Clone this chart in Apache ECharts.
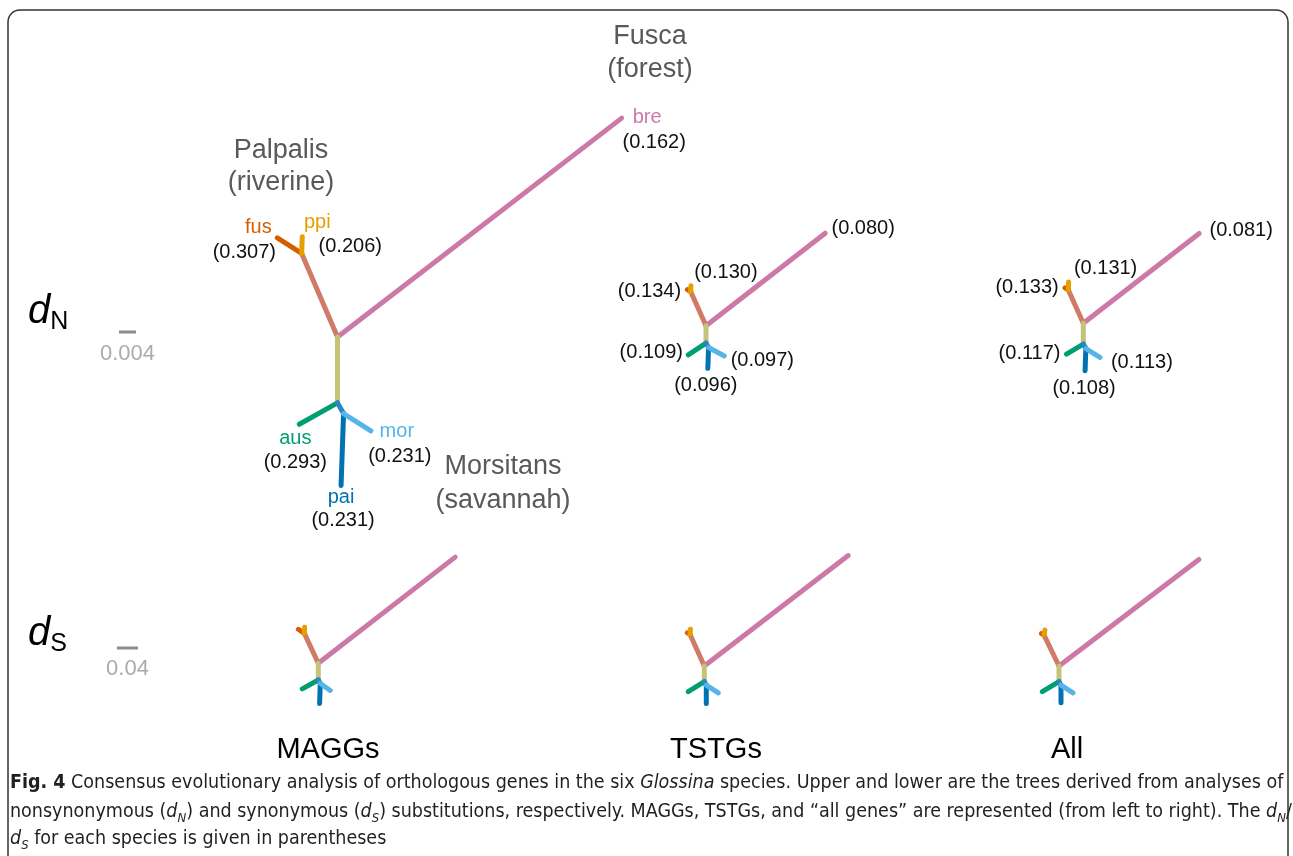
<!DOCTYPE html>
<html>
<head>
<meta charset="utf-8">
<script src="https://cdn.jsdelivr.net/npm/echarts@6/dist/echarts.min.js"></script>
<style>
  html, body { margin: 0; padding: 0; background: #fff; }
  #main { width: 1293px; height: 856px; }
</style>
</head>
<body>
<div id="main"></div>
<script>
// tree topology (unrooted, drawn from inner node A)
var branchFrom = ['A', 'A', 'P', 'P', 'A', 'B', 'B', 'C', 'C'];
var branchTo = ['bre', 'P', 'fus', 'ppi', 'B', 'aus', 'C', 'pai', 'mor'];

// branch lengths (substitutions per site) and drawing angles (deg)
var lenN_MAGGs = [0.0844, 0.0214, 0.0068, 0.0039, 0.0155, 0.0103, 0.0029, 0.0169, 0.0076];
var angN_MAGGs = [37.6, 113.2, 147.4, 88, 270, 209.3, 299.5, 268, 327.6];
var lenN_TSTGs = [0.0355, 0.0088, 0.0009, 0.0014, 0.0041, 0.0050, 0.0012, 0.0049, 0.0042];
var angN_TSTGs = [37.8, 114.2, 148, 88, 270, 213.5, 300, 268, 332];
var lenN_All = [0.0345, 0.0086, 0.0009, 0.0019, 0.0049, 0.0046, 0.0012, 0.0052, 0.0039];
var angN_All = [37.8, 114.2, 148, 88, 270, 211, 300, 268, 328];

var lenS_MAGGs = [0.330, 0.063, 0.0137, 0.0118, 0.0318, 0.035, 0.0076, 0.038, 0.0232];
var angS_MAGGs = [37.8, 115, 146, 87, 270, 209, 300, 268, 325];
var lenS_TSTGs = [0.3455, 0.0663, 0.0057, 0.0095, 0.0299, 0.036, 0.0076, 0.0349, 0.0272];
var angS_TSTGs = [37.5, 114.3, 150, 85, 270, 212, 300, 270, 327];
var lenS_All = [0.335, 0.0655, 0.0057, 0.0095, 0.0299, 0.0371, 0.0076, 0.0337, 0.0272];
var angS_All = [37.3, 115.8, 150, 80, 270, 211, 300, 270, 327];

// dN/dS per species
var species = ['bre', 'fus', 'ppi', 'aus', 'pai', 'mor'];
var ratioMAGGs = [0.162, 0.307, 0.206, 0.293, 0.231, 0.231];
var ratioTSTGs = [0.080, 0.134, 0.130, 0.109, 0.096, 0.097];
var ratioAll = [0.081, 0.133, 0.131, 0.117, 0.108, 0.113];

var geneSets = ['MAGGs', 'TSTGs', 'All'];
var scaleN = 0.004, scaleS = 0.04;

// ---- styles / layout ----
var FONT = "'Liberation Sans', Arial, sans-serif";
var branchColor = {
  bre: '#CC79A7', P: '#CF7B68', fus: '#D55E00', ppi: '#E69F00',
  B: '#C5C27A', aus: '#009E73', C: '#2B86C2', pai: '#0072B2', mor: '#56B4E9'
};
var ppuN = 17 / 0.004;   // px per unit, top row
var ppuS = 21 / 0.04;    // px per unit, bottom row
var roots = [[337.5, 337], [706, 325.7], [1083.3, 323.3], [318.3, 663.3], [704.3, 666], [1059, 666]];

// label offsets from tip (px), order as species
var nameOff = [[25.5, -1], [-19, -10], [15, -14], [-4, 14], [0, 12], [26, 1]];
var valOff = [
  [[32.5, 24], [-33, 15], [48, 10], [-4, 38], [2, 35], [29, 26]],
  [[38, -5], [-38, 2], [35, -13], [-37, -2], [-2, 17], [38, 5]],
  [[42, -3], [-38, 0], [37, -13], [-37, -1], [-1, 18], [42, 5]]
];

function buildTree(len, ang) {
  var nodes = { A: [0, 0] };
  var segs = [];
  for (var i = 0; i < len.length; i++) {
    var s = nodes[branchFrom[i]];
    var a = ang[i] * Math.PI / 180;
    var e = [s[0] + len[i] * Math.cos(a), s[1] + len[i] * Math.sin(a)];
    nodes[branchTo[i]] = e;
    segs.push([s[0], s[1], e[0], e[1], i]);
  }
  return { segs: segs, nodes: nodes };
}

var trees = [
  buildTree(lenN_MAGGs, angN_MAGGs), buildTree(lenN_TSTGs, angN_TSTGs), buildTree(lenN_All, angN_All),
  buildTree(lenS_MAGGs, angS_MAGGs), buildTree(lenS_TSTGs, angS_TSTGs), buildTree(lenS_All, angS_All)
];
var ratios = [ratioMAGGs, ratioTSTGs, ratioAll];

// small box around each root, trees may draw outside it (clip off)
var BOX = 100;
var grids = [], xAxes = [], yAxes = [], series = [];
trees.forEach(function (tree, t) {
  var ppu = t < 3 ? ppuN : ppuS;
  var r = roots[t];
  grids.push({ left: r[0] - BOX, top: r[1] - BOX, width: 2 * BOX, height: 2 * BOX });
  xAxes.push({ type: 'value', gridIndex: t, min: -BOX / ppu, max: BOX / ppu, show: false });
  yAxes.push({ type: 'value', gridIndex: t, min: -BOX / ppu, max: BOX / ppu, show: false });

  series.push({
    type: 'custom',
    xAxisIndex: t, yAxisIndex: t,
    clip: false,
    data: tree.segs,
    encode: { x: [0, 2], y: [1, 3] },
    renderItem: function (params, api) {
      var p1 = api.coord([api.value(0), api.value(1)]);
      var p2 = api.coord([api.value(2), api.value(3)]);
      return {
        type: 'line',
        shape: { x1: p1[0], y1: p1[1], x2: p2[0], y2: p2[1] },
        style: { stroke: branchColor[branchTo[api.value(4)]], lineWidth: 5, lineCap: 'round' }
      };
    }
  });

  if (t < 3) {
    var tips = species.map(function (sp, k) {
      return [tree.nodes[sp][0], tree.nodes[sp][1], k];
    });
    series.push({
      type: 'custom',
      xAxisIndex: t, yAxisIndex: t,
      clip: false,
      data: tips,
      renderItem: function (params, api) {
        var k = api.value(2);
        var p = api.coord([api.value(0), api.value(1)]);
        var vo = valOff[t][k];
        var children = [{
          type: 'text', x: p[0] + vo[0], y: p[1] + vo[1],
          style: { text: '(' + ratios[t][k].toFixed(3) + ')', fill: '#111', fontSize: 20, fontFamily: FONT, align: 'center', verticalAlign: 'middle' }
        }];
        if (t === 0) {
          var no = nameOff[k];
          children.push({
            type: 'text', x: p[0] + no[0], y: p[1] + no[1],
            style: { text: species[k], fill: branchColor[species[k]], fontSize: 20, fontFamily: FONT, align: 'center', verticalAlign: 'middle' }
          });
        }
        return { type: 'group', children: children };
      }
    });
  }
});

// scale bars
[[0, scaleN, 332, 354, '0.004'], [3, scaleS, 648, 669, '0.04']].forEach(function (sb) {
  series.push({
    type: 'custom',
    xAxisIndex: sb[0], yAxisIndex: sb[0],
    clip: false,
    data: [[sb[1]]],
    renderItem: function (params, api) {
      var w = api.size([api.value(0), 0])[0];
      var cx = 127.5;
      return {
        type: 'group',
        children: [
          { type: 'line', shape: { x1: cx - w / 2, y1: sb[2], x2: cx + w / 2, y2: sb[2] }, style: { stroke: '#8c8c8c', lineWidth: 3 } },
          { type: 'text', x: cx, y: sb[3], style: { text: sb[4], fill: '#ababab', fontSize: 22, fontFamily: FONT, align: 'center', verticalAlign: 'middle' } }
        ]
      };
    }
  });
});

function label(text, x, y, size, color) {
  return { type: 'text', x: x, y: y, style: { text: text, fill: color, fontSize: size, fontFamily: FONT, align: 'center', verticalAlign: 'middle' } };
}

var CAP_FONT = "'Liberation Sans Narrow', 'DejaVu Sans Condensed', 'Open Sans', sans-serif";
var CAP_SIZE = 19.5;
var capRich = {
  b: { fontWeight: 'bold', fontSize: CAP_SIZE, fontFamily: CAP_FONT, fill: '#231f20', lineHeight: 26 },
  i: { fontStyle: 'italic', fontSize: CAP_SIZE, fontFamily: CAP_FONT, fill: '#231f20', lineHeight: 26 },
  s: { fontStyle: 'italic', fontSize: 13, fontFamily: CAP_FONT, fill: '#231f20', lineHeight: 15, verticalAlign: 'bottom' }
};
function capLine(text, y) {
  return {
    type: 'text', x: 10, y: y,
    style: { text: text, fontSize: CAP_SIZE, fontFamily: CAP_FONT, fill: '#231f20', lineHeight: 26, align: 'left', verticalAlign: 'middle', rich: capRich }
  };
}
var dRich = {
  d: { fontStyle: 'italic', fontSize: 40, fontFamily: FONT, fill: '#000', lineHeight: 46 },
  n: { fontSize: 25, fontFamily: FONT, fill: '#000', lineHeight: 28, verticalAlign: 'bottom' }
};

var graphics = [
  { type: 'rect', shape: { x: 8, y: 10, width: 1280, height: 900, r: 12 }, style: { fill: 'none', stroke: '#333', lineWidth: 1.5 } },
  label('Fusca', 650, 37, 27, '#595959'),
  label('(forest)', 650, 70, 27, '#595959'),
  label('Palpalis', 281, 151, 27, '#595959'),
  label('(riverine)', 281, 183, 27, '#595959'),
  label('Morsitans', 503, 467, 27, '#595959'),
  label('(savannah)', 503, 501, 27, '#595959'),
  label(geneSets[0], 328, 750, 29, '#000'),
  label(geneSets[1], 716, 750, 29, '#000'),
  label(geneSets[2], 1067, 750, 29, '#000'),
  { type: 'text', x: 28, y: 312, style: { text: '{d|d}{n|N}', rich: dRich, align: 'left', verticalAlign: 'middle' } },
  { type: 'text', x: 28, y: 634, style: { text: '{d|d}{n|S}', rich: dRich, align: 'left', verticalAlign: 'middle' } },
  capLine('{b|Fig. 4} Consensus evolutionary analysis of orthologous genes in the six {i|Glossina} species. Upper and lower are the trees derived from analyses of', 783),
  capLine('nonsynonymous ({i|d}{s|N}) and synonymous ({i|d}{s|S}) substitutions, respectively. MAGGs, TSTGs, and \u201call genes\u201d are represented (from left to right). The {i|d}{s|N}/', 812),
  capLine('{i|d}{s|S} for each species is given in parentheses', 839)
];

var chart = echarts.init(document.getElementById('main'));
chart.setOption({
  animation: false,
  grid: grids,
  xAxis: xAxes,
  yAxis: yAxes,
  series: series,
  graphic: graphics
});
</script>
</body>
</html>
